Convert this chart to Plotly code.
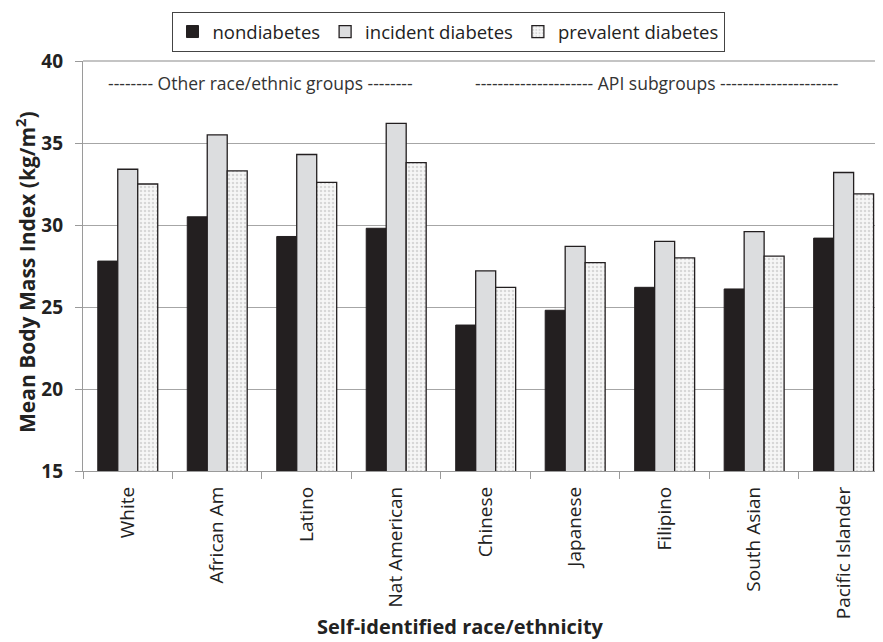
import plotly.graph_objects as go

categories = ["White", "African Am", "Latino", "Nat American", "Chinese",
              "Japanese", "Filipino", "South Asian", "Pacific Islander"]
nondiabetes = [27.8, 30.5, 29.3, 29.8, 23.9, 24.8, 26.2, 26.1, 29.2]
incident = [33.4, 35.5, 34.3, 36.2, 27.2, 28.7, 29.0, 29.6, 33.2]
prevalent = [32.5, 33.3, 32.6, 33.8, 26.2, 27.7, 28.0, 28.1, 31.9]
y_ticks = [15, 20, 25, 30, 35, 40]

FONT = "Open Sans"
DARK = "#231f20"
W, H = 883, 642
OFF = 8  # page body margin
L, T, PW, PH = 83 - OFF, 61 - OFF, 800, 410
R = W - L - PW
B = H - T - PH


def px_x(x):
    return (x - OFF - L) / PW


def px_y(y):
    return (H - B - (y - OFF)) / PH


fig = go.Figure()
fig.add_trace(go.Bar(
    x=categories, y=nondiabetes, name="nondiabetes",
    marker=dict(color=DARK, line=dict(color=DARK, width=1)),
))
fig.add_trace(go.Bar(
    x=categories, y=incident, name="incident diabetes",
    marker=dict(color="#dcdddf", line=dict(color=DARK, width=1.3)),
))
fig.add_trace(go.Bar(
    x=categories, y=prevalent, name="prevalent diabetes",
    marker=dict(color="white", line=dict(color=DARK, width=1.3),
                pattern=dict(shape=".", fgcolor="#b8b8b8", bgcolor="#f6f6f6",
                             size=4, solidity=0.3)),
))

fig.update_layout(
    width=W, height=H,
    margin=dict(l=L, r=R, t=T, b=B, autoexpand=False),
    paper_bgcolor="white", plot_bgcolor="white",
    barmode="group", bargap=0.33, bargroupgap=0,
    font=dict(family=FONT, color="#222"),
    showlegend=True,
    legend=dict(
        orientation="h", xref="container", yref="container",
        x=(448 - OFF) / W, xanchor="center", y=1 - (12 - OFF) / H, yanchor="top",
        bordercolor="#444", borderwidth=1,
        font=dict(family=FONT, size=18.5, color="#222"),
        itemwidth=30, traceorder="normal",
    ),
    xaxis=dict(
        type="category", range=[-0.5, 8.44],
        showgrid=False, showline=True, linecolor="#9a9a9a", linewidth=1.3,
        ticks="outside", tickson="boundaries", ticklen=7, tickcolor="#9a9a9a",
        tickangle=-90, ticklabelstandoff=7,
        tickfont=dict(family=FONT, size=19, color="#222"),
    ),
    yaxis=dict(
        range=[15, 40], tickvals=y_ticks,
        showgrid=True, gridcolor="#a6a6a6", gridwidth=1.3,
        showline=True, linecolor="#9a9a9a", linewidth=1.3, mirror=False,
        ticks="outside", ticklen=7, tickcolor="#9a9a9a", ticklabelstandoff=8,
        tickfont=dict(family=FONT, size=19, color="#222", weight="bold"),
        zeroline=False,
    ),
    annotations=[
        dict(text="-------- Other race/ethnic groups --------",
             xref="paper", yref="paper", x=px_x(260), y=px_y(83),
             xanchor="center", yanchor="middle",
             showarrow=False, font=dict(family=FONT, size=17.5, color="#333")),
        dict(text="--------------------- API subgroups ---------------------",
             xref="paper", yref="paper", x=px_x(656), y=px_y(83),
             xanchor="center", yanchor="middle",
             showarrow=False, font=dict(family=FONT, size=17.5, color="#333")),
        dict(text="<b>Self-identified race/ethnicity</b>",
             xref="paper", yref="paper", x=px_x(460), y=px_y(626),
             xanchor="center", yanchor="middle", showarrow=False,
             font=dict(family=FONT, size=20, color="#222")),
        dict(text="<b>Mean Body Mass Index (kg/m<sup>2</sup>)</b>",
             xref="paper", yref="paper", x=px_x(25), y=px_y(272),
             xanchor="center", yanchor="middle", textangle=-90, showarrow=False,
             font=dict(family=FONT, size=21, color="#222")),
    ],
)
fig.add_shape(type="line", xref="paper", yref="paper", x0=0, x1=1, y0=1, y1=1,
              line=dict(color="#b0b0b0", width=1.3))

fig.write_html("out.html")
